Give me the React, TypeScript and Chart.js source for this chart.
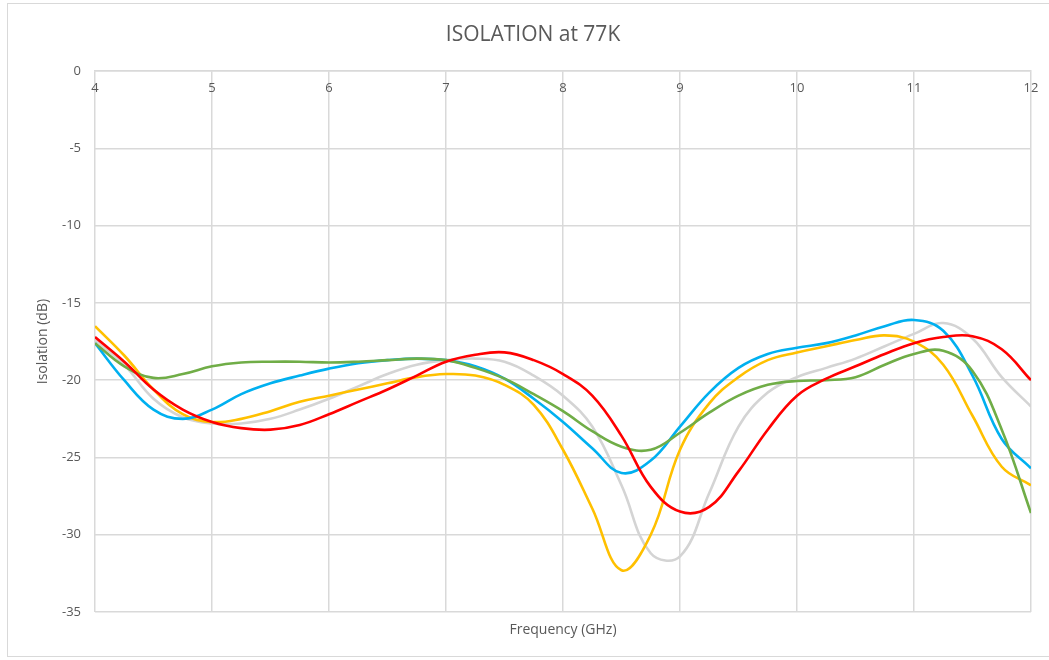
import { useEffect, useRef } from "react";
import { Chart, registerables } from "chart.js";

Chart.register(...registerables);

const chartTitle = "ISOLATION at 77K";
const xAxisTitle = "Frequency (GHz)";
const yAxisTitle = "Isolation (dB)";

const xMin = 4;
const xMax = 12;
const yMin = -35;
const yMax = 0;

// frequency samples (GHz)
const frequencies = [4, 4.25, 4.5, 4.75, 5, 5.25, 5.5, 5.75, 6, 6.25, 6.5, 6.75, 7, 7.25, 7.5, 7.75, 8, 8.25, 8.5, 8.75, 9, 9.25, 9.5, 9.75, 10, 10.25, 10.5, 10.75, 11, 11.25, 11.5, 11.75, 12];

const redIso = [-17.2, -18.8, -20.6, -21.9, -22.7, -23.1, -23.2, -22.9, -22.2, -21.4, -20.6, -19.7, -18.8, -18.35, -18.2, -18.7, -19.6, -21.0, -23.6, -26.9, -28.5, -28.2, -25.9, -23.2, -21.0, -19.9, -19.1, -18.3, -17.6, -17.2, -17.15, -18.0, -20.0];
const greenIso = [-17.6, -19.1, -19.85, -19.6, -19.1, -18.85, -18.8, -18.8, -18.85, -18.8, -18.7, -18.6, -18.7, -19.2, -19.9, -20.9, -22.0, -23.3, -24.3, -24.5, -23.4, -22.1, -21.0, -20.3, -20.05, -20.0, -19.8, -19.0, -18.3, -18.1, -19.4, -23.2, -28.6];
const blueIso = [-17.6, -20.0, -21.9, -22.5, -21.9, -20.9, -20.2, -19.7, -19.25, -18.9, -18.7, -18.6, -18.7, -19.1, -19.9, -21.2, -22.7, -24.4, -26.0, -25.2, -23.0, -20.8, -19.2, -18.3, -17.9, -17.6, -17.1, -16.5, -16.1, -16.8, -19.7, -23.8, -25.7];
const yellowIso = [-16.5, -18.4, -20.6, -22.2, -22.7, -22.5, -22.0, -21.4, -21.0, -20.6, -20.2, -19.8, -19.6, -19.7, -20.3, -21.6, -24.5, -28.3, -32.3, -30.0, -24.5, -21.5, -19.8, -18.7, -18.2, -17.8, -17.4, -17.1, -17.5, -19.0, -22.3, -25.6, -26.8];
const grayIso = [-17.4, -19.0, -21.2, -22.4, -22.8, -22.8, -22.5, -21.9, -21.2, -20.4, -19.6, -19.0, -18.7, -18.6, -18.8, -19.7, -21.0, -23.0, -26.8, -31.2, -31.4, -27.3, -23.0, -20.8, -19.8, -19.2, -18.6, -17.8, -17.0, -16.3, -17.3, -19.8, -21.7];

const seriesNames = ["Series 5", "Series 4", "Series 3", "Series 2", "Series 1"];
const seriesColors = ["#FF0000", "#70AD47", "#00B0F0", "#FFC000", "#D4D4D4"];
const seriesIsos = [redIso, greenIso, blueIso, yellowIso, grayIso];

const FONT = "'Open Sans', 'Noto Sans', sans-serif";
const TEXT = "#595959";
const GRID = "#D9D9D9";

export default function App() {
  const canvasRef = useRef<HTMLCanvasElement | null>(null);

  useEffect(() => {
    if (!canvasRef.current) return;
    const datasets = seriesNames.map((name, i) => ({
      label: name,
      data: frequencies.map((f, j) => ({ x: f, y: seriesIsos[i][j] })),
      borderColor: seriesColors[i],
      backgroundColor: seriesColors[i],
      borderWidth: 2.6,
      pointRadius: 0,
      pointHoverRadius: 0,
      fill: false,
      tension: 0.4,
    }));

    const chart = new Chart(canvasRef.current, {
      type: "line",
      data: { datasets },
      options: {
        animation: false,
        responsive: true,
        maintainAspectRatio: false,
        layout: { padding: { left: 35, right: 18, top: 0, bottom: 0 } },
        plugins: {
          legend: { display: false },
          tooltip: { enabled: false },
          title: {
            display: true,
            text: chartTitle,
            color: TEXT,
            font: { family: FONT, size: 21, weight: "normal" },
            padding: { top: 22, bottom: 24 },
          },
        },
        scales: {
          x: {
            type: "linear",
            min: xMin,
            max: xMax,
            position: { y: 0 } as any,
            afterFit: (scale: any) => {
              scale.height = 0;
            },
            ticks: {
              stepSize: 1,
              color: TEXT,
              padding: 9,
              font: { family: FONT, size: 13 },
              maxRotation: 0,
            },
            grid: { color: GRID, lineWidth: 1.5, drawTicks: false },
            border: { display: true, color: GRID, width: 1.5 },
          },
          xTitle: {
            type: "linear",
            min: xMin,
            max: xMax,
            position: "bottom",
            afterFit: (scale: any) => {
              scale.height = 48;
            },
            ticks: { display: false },
            grid: { display: false, drawTicks: false },
            border: { display: false },
            title: {
              display: true,
              text: xAxisTitle,
              color: TEXT,
              font: { family: FONT, size: 14 },
              padding: { top: 0, bottom: 22 },
            },
          },
          y: {
            type: "linear",
            min: yMin,
            max: yMax,
            position: "left",
            afterFit: (scale: any) => {
              scale.width = 60;
            },
            ticks: {
              stepSize: 5,
              color: TEXT,
              padding: 14,
              font: { family: FONT, size: 13 },
            },
            grid: { color: GRID, lineWidth: 1.5, drawTicks: false },
            border: { display: false },
            title: {
              display: true,
              text: yAxisTitle,
              color: TEXT,
              font: { family: FONT, size: 14 },
              padding: { top: 0, bottom: 0 },
            },
          },
        },
      },
    });
    return () => chart.destroy();
  }, []);

  return (
    <div style={{ position: "absolute", left: 0, top: 0, width: 1049, height: 660, background: "#fff" }}>
      <div
        style={{
          position: "absolute",
          left: 7,
          top: 3,
          width: 1060,
          height: 654,
          border: "1px solid #D9D9D9",
          boxSizing: "border-box",
        }}
      />
      <div style={{ position: "absolute", left: 0, top: 0, width: 1049, height: 660 }}>
        <canvas ref={canvasRef} />
      </div>
    </div>
  );
}
